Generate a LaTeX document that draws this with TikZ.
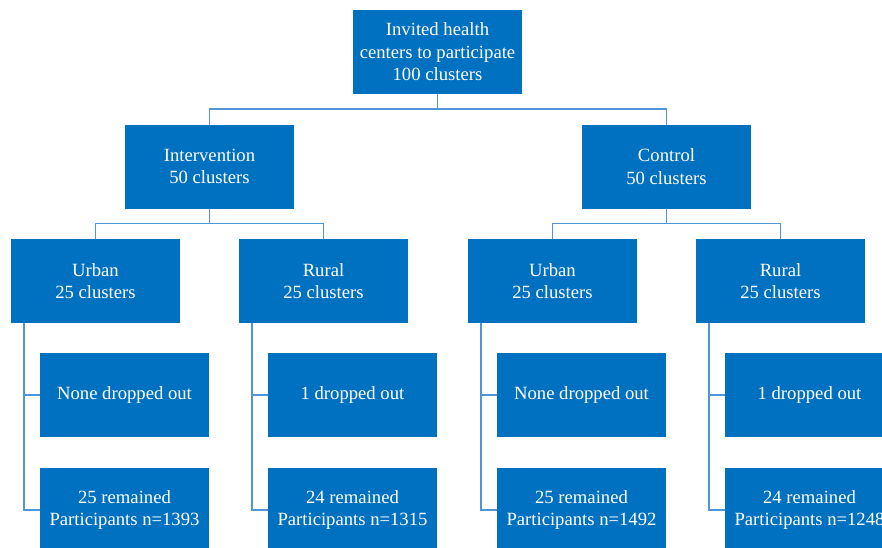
\documentclass[tikz,border=0pt]{standalone}
\usepackage{fontspec}
\setmainfont{Liberation Serif}
\usepackage{tikz}
\usetikzlibrary{positioning}
\definecolor{BoxBlue}{RGB}{0, 112, 192}
\definecolor{LineBlue}{RGB}{80, 150, 215}

\begin{document}
\begin{tikzpicture}[
        x=0.75pt, y=-0.75pt,
        block/.style={
            rectangle,
            fill=BoxBlue,
            text=white,
            inner sep=0pt,
            outer sep=0pt,
            minimum width=126.75pt,
            minimum height=63pt,
            align=center,
            font=\fontsize{14}{16.8}\selectfont
        },
        link/.style={
            draw=LineBlue,
            line width=1.1pt
        }
    ]
        \useasboundingbox (0,0) rectangle (882,547);
        \clip (0,0) rectangle (882,547);

        % Nodes
        \node[block] (invited) at (437.5, 52) {Invited health\\centers to participate\\100 clusters};
        \node[block] (interv) at (209.5, 166.5) {Intervention\\50 clusters};
        \node[block] (control) at (666.5, 166.5) {Control\\50 clusters};

        \node[block] (urbanA) at (95.5, 281) {Urban\\25 clusters};
        \node[block] (ruralA) at (323.5, 281) {Rural\\25 clusters};
        \node[block] (urbanB) at (552.5, 281) {Urban\\25 clusters};
        \node[block] (ruralB) at (780.5, 281) {Rural\\25 clusters};

        \node[block] (dropUA) at (124.5, 395) {None dropped out};
        \node[block] (dropRA) at (352.5, 395) {1 dropped out};
        \node[block] (dropUB) at (581.5, 395) {None dropped out};
        \node[block] (dropRB) at (809.5, 395) {1 dropped out};

        \node[block] (remUA) at (124.5, 510) {25 remained\\Participants n=1393};
        \node[block] (remRA) at (352.5, 510) {24 remained\\Participants n=1315};
        \node[block] (remUB) at (581.5, 510) {25 remained\\Participants n=1492};
        \node[block] (remRB) at (809.5, 510) {24 remained\\Participants n=1248};

        % Paths
        \draw[link] (invited.south) -- ++(0,15) -| (interv.north);
        \draw[link] (invited.south) -- ++(0,15) -| (control.north);
        \draw[link] (interv.south) -- ++(0,15) -| (urbanA.north);
        \draw[link] (interv.south) -- ++(0,15) -| (ruralA.north);
        \draw[link] (control.south) -- ++(0,15) -| (urbanB.north);
        \draw[link] (control.south) -- ++(0,15) -| (ruralB.north);

        \draw[link] ([xshift=9.75pt]urbanA.south west) |- (dropUA.west);
        \draw[link] ([xshift=9.75pt]urbanA.south west) |- (remUA.west);
        \draw[link] ([xshift=9.75pt]ruralA.south west) |- (dropRA.west);
        \draw[link] ([xshift=9.75pt]ruralA.south west) |- (remRA.west);
        \draw[link] ([xshift=9.75pt]urbanB.south west) |- (dropUB.west);
        \draw[link] ([xshift=9.75pt]urbanB.south west) |- (remUB.west);
        \draw[link] ([xshift=9.75pt]ruralB.south west) |- (dropRB.west);
        \draw[link] ([xshift=9.75pt]ruralB.south west) |- (remRB.west);
    \end{tikzpicture}
\end{document}
